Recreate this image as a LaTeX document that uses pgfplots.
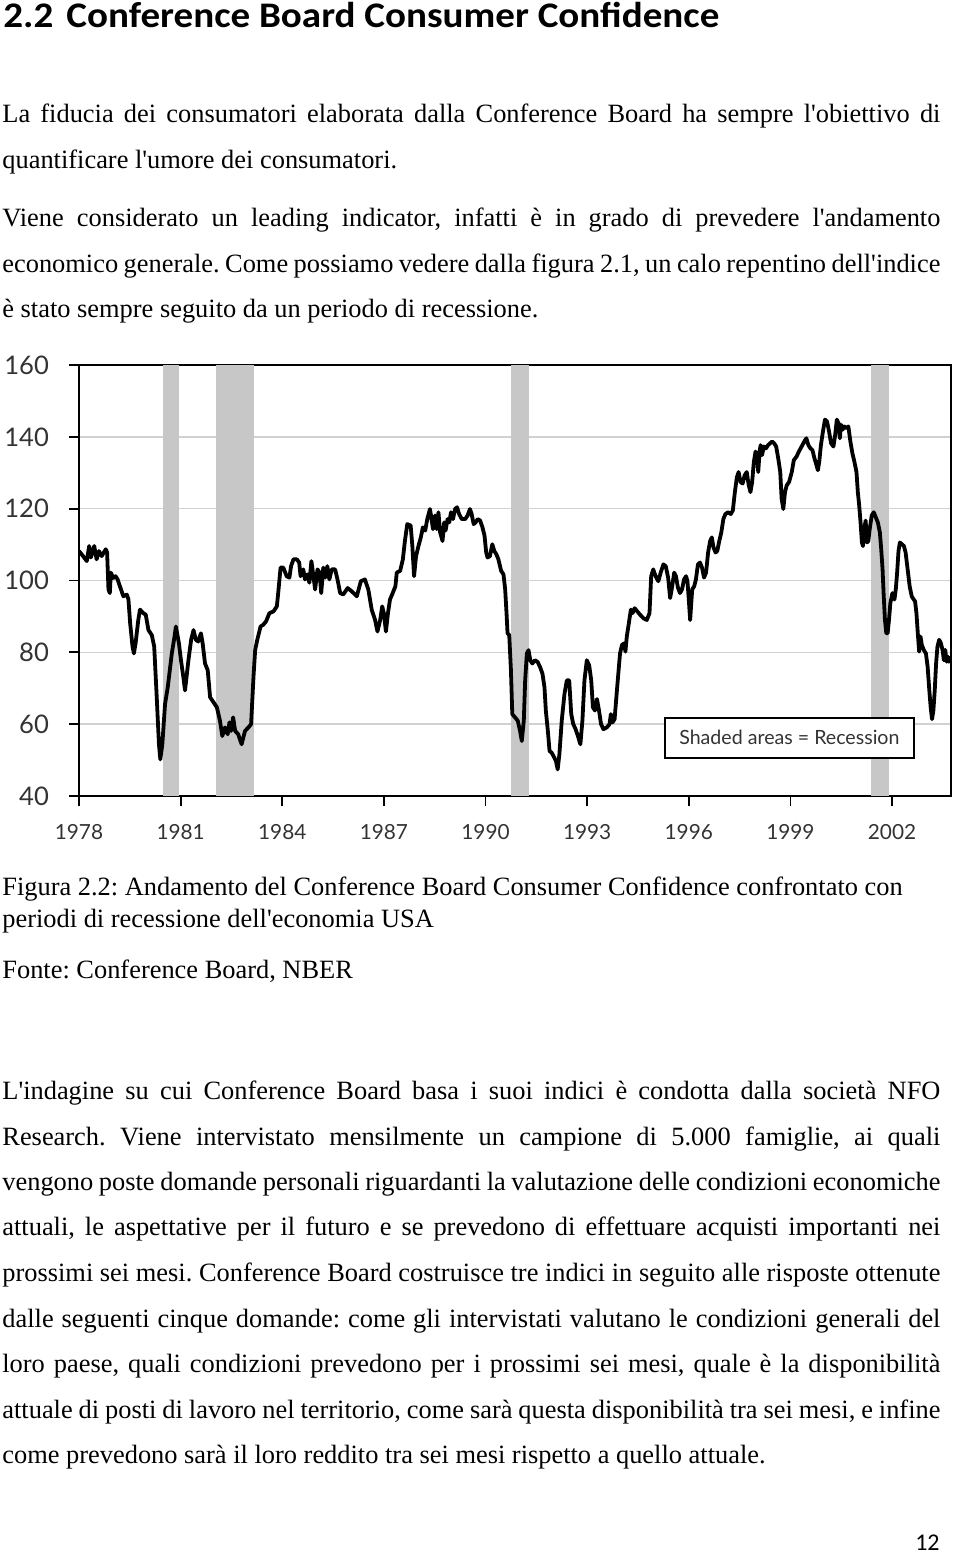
\documentclass[border=0pt]{standalone}
\usepackage{fontspec}
\setmainfont{Liberation Serif}
\newfontfamily\titlefont{Carlito}
\newfontfamily\chartfont{Lato}
\usepackage{pgfplots}
\pgfplotsset{compat=1.18}
\frenchspacing
\newcommand{\q}{\textquotesingle}
\newcommand{\body}{\fontsize{13.2}{16}\selectfont\frenchspacing}
\newcommand{\jline}[3]{\node[anchor=base west,inner sep=0pt] at (#1pt,#2pt) {\body\makebox[469pt][s]{#3}};}
\newcommand{\nline}[3]{\node[anchor=base west,inner sep=0pt] at (#1pt,#2pt) {\body #3};}
\begin{document}
\begin{tikzpicture}
\useasboundingbox (0,0) rectangle (480pt,-777pt);
% title
\node[anchor=base west,inner sep=0pt] at (1.5pt,-13.6pt) {\titlefont\bfseries\fontsize{18}{21}\selectfont\scalebox{1.085}[1]{2.2\hspace{6pt}Conference Board Consumer Confidence}};
% paragraph 1
\jline{1}{-61}{La fiducia dei consumatori elaborata dalla Conference Board ha sempre l\q obiettivo di}
\nline{1}{-84}{quantificare l\q umore dei consumatori.}
\jline{1}{-113}{Viene considerato un leading indicator, infatti è in grado di prevedere l\q andamento}
\jline{1}{-136}{economico generale. Come possiamo vedere dalla figura 2.1, un calo repentino dell\q indice}
\nline{1}{-158.5}{è stato sempre seguito da un periodo di recessione.}
% caption
\nline{1}{-447.5}{Figura 2.2: Andamento del Conference Board Consumer Confidence confrontato con}
\nline{1}{-463.5}{periodi di recessione dell\q economia USA}
\nline{1}{-489}{Fonte: Conference Board, NBER}
% paragraph 3
\jline{1}{-549.5}{L\q indagine su cui Conference Board basa i suoi indici è condotta dalla società NFO}
\jline{1}{-572.5}{Research. Viene intervistato mensilmente un campione di 5.000 famiglie, ai quali}
\jline{1}{-595.3}{vengono poste domande personali riguardanti la valutazione delle condizioni economiche}
\jline{1}{-617.9}{attuali, le aspettative per il futuro e se prevedono di effettuare acquisti importanti nei}
\jline{1}{-640.9}{prossimi sei mesi. Conference Board costruisce tre indici in seguito alle risposte ottenute}
\jline{1}{-663.7}{dalle seguenti cinque domande: come gli intervistati valutano le condizioni generali del}
\jline{1}{-686.3}{loro paese, quali condizioni prevedono per i prossimi sei mesi, quale è la disponibilità}
\jline{1}{-709.2}{attuale di posti di lavoro nel territorio, come sarà questa disponibilità tra sei mesi, e infine}
\nline{1}{-731.7}{come prevedono sarà il loro reddito tra sei mesi rispetto a quello attuale.}
\node[anchor=base east,inner sep=0pt] at (470pt,-775pt) {\titlefont\fontsize{12}{14}\selectfont 12};
% chart
\begin{axis}[
  at={(39.5pt,-398pt)}, anchor=south west,
  scale only axis, width=436pt, height=215.5pt,
  xmin=1978, xmax=2003.74, ymin=40, ymax=160,
  xtick={1978,1981,1984,1987,1990,1993,1996,1999,2002},
  xticklabels={1978,1981,1984,1987,1990,1993,1996,1999,2002},
  ytick={40,60,80,100,120,140,160},
  ymajorgrids, grid style={black!18, line width=0.7pt},
  axis line style={black, line width=0.9pt},
  tick style={black, line width=0.9pt},
  tick align=outside, major tick length=5pt,
  xtick pos=bottom, ytick pos=left,
  /pgf/number format/assume math mode=true,
  xticklabel style={font=\chartfont\fontsize{10.4}{12}\selectfont, text=black!80, yshift=-5.5pt},
  yticklabel style={font=\chartfont\fontsize{12.8}{14}\selectfont, text=black!80, xshift=-6.5pt},
]
\addplot[fill=black!22, draw=none] coordinates {(1980.48,40) (1980.48,160) (1980.95,160) (1980.95,40)};
\addplot[fill=black!22, draw=none] coordinates {(1982.05,40) (1982.05,160) (1983.17,160) (1983.17,40)};
\addplot[fill=black!22, draw=none] coordinates {(1990.74,40) (1990.74,160) (1991.29,160) (1991.29,40)};
\addplot[fill=black!22, draw=none] coordinates {(2001.38,40) (2001.38,160) (2001.90,160) (2001.90,40)};
\addplot[black, line width=1.9pt, line join=round, mark=none] coordinates {
(1978.00,108.2) (1978.12,106.8) (1978.23,105.4) (1978.30,109.6) (1978.35,106.4) (1978.45,109.6)
(1978.52,105.9) (1978.59,108.2) (1978.67,106.8) (1978.79,108.7) (1978.83,107.8) (1978.87,97.5)
(1978.91,96.5) (1978.94,102.2) (1979.01,100.7) (1979.08,101.2) (1979.14,100.3) (1979.24,97.5)
(1979.31,95.6) (1979.41,96.1) (1979.46,94.7) (1979.51,88.1) (1979.58,81.6) (1979.62,79.7)
(1979.67,82.5) (1979.75,89.0) (1979.80,91.9) (1979.90,90.9) (1979.97,90.5) (1980.05,86.2)
(1980.15,84.8) (1980.22,81.6) (1980.29,68.4) (1980.36,54.4) (1980.40,50.2) (1980.46,54.4)
(1980.54,65.6) (1980.62,70.3) (1980.74,79.7) (1980.82,84.4) (1980.86,87.2) (1980.95,82.5)
(1981.01,77.8) (1981.08,73.1) (1981.13,69.4) (1981.23,77.8) (1981.31,83.5) (1981.38,86.2)
(1981.45,83.5) (1981.52,83.0) (1981.60,85.3) (1981.65,82.5) (1981.72,76.9) (1981.80,75.0)
(1981.87,67.5) (1981.97,66.1) (1982.07,64.7) (1982.16,61.0) (1982.23,56.7) (1982.31,59.1)
(1982.39,57.2) (1982.44,60.5) (1982.49,58.1) (1982.55,61.9) (1982.61,58.1) (1982.70,57.2)
(1982.80,54.4) (1982.90,58.1) (1983.00,59.1) (1983.08,60.0) (1983.15,73.1) (1983.20,80.6)
(1983.26,83.4) (1983.36,87.2) (1983.44,87.7) (1983.52,88.6) (1983.62,90.9) (1983.74,91.4)
(1983.84,92.8) (1983.88,96.5) (1983.95,103.6) (1984.03,103.6) (1984.13,101.2) (1984.21,100.8)
(1984.26,104.0) (1984.33,105.9) (1984.43,105.9) (1984.50,105.0) (1984.54,101.2) (1984.62,103.1)
(1984.67,100.3) (1984.74,101.7) (1984.80,99.4) (1984.86,105.4) (1984.92,101.2) (1984.97,97.5)
(1985.04,103.1) (1985.10,102.2) (1985.15,96.5) (1985.21,103.6) (1985.27,100.8) (1985.33,104.0)
(1985.39,100.3) (1985.46,103.1) (1985.56,103.1) (1985.63,100.3) (1985.71,96.5) (1985.80,96.1)
(1985.93,97.9) (1986.05,97.0) (1986.20,95.6) (1986.32,99.8) (1986.44,100.3) (1986.54,97.5)
(1986.64,91.9) (1986.74,89.0) (1986.81,85.8) (1986.89,89.0) (1986.95,92.8) (1987.00,90.9)
(1987.06,85.8) (1987.12,90.9) (1987.18,94.7) (1987.26,96.5) (1987.34,98.4) (1987.38,102.2)
(1987.48,102.7) (1987.56,105.9) (1987.62,111.0) (1987.69,115.7) (1987.79,115.3) (1987.84,109.6)
(1987.89,101.2) (1987.95,106.8) (1988.02,109.6) (1988.09,112.0) (1988.15,114.8) (1988.22,113.9)
(1988.28,117.1) (1988.36,119.9) (1988.39,118.1) (1988.45,114.3) (1988.51,118.1) (1988.56,114.3)
(1988.61,119.0) (1988.66,113.4) (1988.73,111.0) (1988.78,116.2) (1988.82,113.9) (1988.88,117.1)
(1988.93,116.2) (1988.98,119.0) (1989.04,117.1) (1989.10,119.9) (1989.16,120.4) (1989.22,118.5)
(1989.30,117.1) (1989.40,117.1) (1989.47,118.1) (1989.54,119.9) (1989.59,118.5) (1989.65,115.7)
(1989.71,116.2) (1989.77,117.1) (1989.84,116.7) (1989.91,114.8) (1989.97,112.5) (1990.02,107.8)
(1990.06,106.4) (1990.13,106.8) (1990.20,110.1) (1990.26,108.2) (1990.32,107.3) (1990.38,105.9)
(1990.46,102.7) (1990.53,101.7) (1990.58,97.5) (1990.62,90.9) (1990.65,85.3) (1990.70,84.8)
(1990.75,75.0) (1990.79,62.8) (1990.87,61.9) (1990.95,61.0) (1991.02,58.1) (1991.07,55.3)
(1991.13,61.0) (1991.17,72.2) (1991.22,79.7) (1991.27,80.6) (1991.32,77.8) (1991.38,76.9)
(1991.46,77.8) (1991.54,77.3) (1991.61,75.9) (1991.68,74.1) (1991.74,70.3) (1991.78,63.8)
(1991.84,58.1) (1991.89,52.5) (1991.95,52.1) (1992.03,50.7) (1992.08,49.7) (1992.13,47.4)
(1992.18,51.6) (1992.25,61.0) (1992.33,68.4) (1992.40,72.2) (1992.47,72.2) (1992.53,62.8)
(1992.59,60.0) (1992.66,58.6) (1992.74,56.3) (1992.80,54.4) (1992.86,61.0) (1992.92,72.2)
(1992.99,77.8) (1993.06,76.4) (1993.12,72.2) (1993.17,64.7) (1993.23,63.8) (1993.29,67.0)
(1993.35,63.8) (1993.41,60.0) (1993.48,58.6) (1993.58,59.1) (1993.66,60.0) (1993.70,62.8)
(1993.75,60.5) (1993.81,61.4) (1993.87,68.4) (1993.92,74.1) (1993.97,79.7) (1994.03,82.1)
(1994.09,82.5) (1994.13,80.2) (1994.17,84.4) (1994.23,88.1) (1994.29,91.9) (1994.34,90.9)
(1994.40,92.3) (1994.48,91.4) (1994.56,90.5) (1994.66,89.5) (1994.76,89.0) (1994.84,90.9)
(1994.89,101.2) (1994.95,103.1) (1995.02,101.2) (1995.10,99.8) (1995.17,102.2) (1995.25,104.5)
(1995.32,104.0) (1995.39,100.8) (1995.45,95.1) (1995.51,98.4) (1995.57,102.2) (1995.62,101.2)
(1995.68,98.0) (1995.74,96.5) (1995.80,97.5) (1995.86,100.3) (1995.92,101.2) (1995.96,99.8)
(1996.00,94.7) (1996.04,89.0) (1996.10,97.5) (1996.16,98.4) (1996.21,100.3) (1996.27,104.5)
(1996.33,105.0) (1996.39,103.6) (1996.45,100.8) (1996.51,102.2) (1996.57,107.8) (1996.63,111.0)
(1996.68,112.0) (1996.73,109.2) (1996.79,107.8) (1996.84,108.2) (1996.90,111.0) (1996.96,113.4)
(1997.02,117.1) (1997.08,118.5) (1997.16,119.0) (1997.24,118.5) (1997.30,119.5) (1997.36,124.6)
(1997.42,128.8) (1997.47,130.2) (1997.53,127.4) (1997.59,127.0) (1997.65,129.3) (1997.71,130.2)
(1997.77,126.5) (1997.82,124.6) (1997.87,127.4) (1997.92,133.0) (1997.97,135.9) (1998.01,134.9)
(1998.05,130.2) (1998.09,135.9) (1998.12,137.7) (1998.16,134.9) (1998.22,137.3) (1998.28,136.8)
(1998.34,137.7) (1998.40,138.2) (1998.46,138.7) (1998.52,138.2) (1998.58,137.3) (1998.64,134.0)
(1998.70,130.2) (1998.74,122.8) (1998.79,119.9) (1998.84,124.6) (1998.89,126.5) (1998.96,127.4)
(1999.04,130.2) (1999.10,133.5) (1999.18,134.5) (1999.25,135.9) (1999.33,137.3) (1999.41,138.7)
(1999.47,139.6) (1999.53,137.7) (1999.59,136.8) (1999.65,136.3) (1999.71,134.0) (1999.77,132.1)
(1999.81,130.7) (1999.85,133.0) (1999.90,137.7) (1999.96,141.5) (2000.02,144.8) (2000.08,144.3)
(2000.14,141.5) (2000.20,138.2) (2000.27,137.3) (2000.32,140.5) (2000.37,144.8) (2000.42,143.8)
(2000.46,139.6) (2000.49,143.4) (2000.54,142.0) (2000.59,142.9) (2000.65,142.4) (2000.71,142.9)
(2000.77,138.7) (2000.83,135.4) (2000.89,133.0) (2000.95,130.2) (2000.99,124.6) (2001.03,120.9)
(2001.07,116.2) (2001.11,110.6) (2001.14,109.6) (2001.18,114.3) (2001.22,116.7) (2001.26,110.6)
(2001.30,111.0) (2001.34,114.3) (2001.40,118.1) (2001.46,119.0) (2001.52,117.6) (2001.58,116.2)
(2001.64,113.4) (2001.68,108.7) (2001.72,103.1) (2001.75,96.5) (2001.79,89.1) (2001.83,85.3)
(2001.87,85.3) (2001.91,89.1) (2001.95,93.7) (2002.01,96.5) (2002.07,94.7) (2002.11,97.5)
(2002.15,102.2) (2002.19,108.2) (2002.23,110.6) (2002.29,110.1) (2002.35,109.6) (2002.40,107.8)
(2002.46,103.1) (2002.52,98.4) (2002.58,95.6) (2002.64,94.7) (2002.68,94.2) (2002.72,90.9)
(2002.76,85.3) (2002.80,80.2) (2002.84,84.4) (2002.88,82.0) (2002.94,80.6) (2003.00,79.7)
(2003.05,76.0) (2003.10,69.4) (2003.14,64.7) (2003.18,61.4) (2003.22,63.8) (2003.26,69.4)
(2003.30,76.9) (2003.34,81.6) (2003.39,83.5) (2003.44,82.6) (2003.49,80.7) (2003.53,77.8)
(2003.57,80.7) (2003.61,77.4) (2003.65,78.8) (2003.68,77.4) (2003.72,77.8)
};
\node[draw=black, line width=0.8pt, fill=white, minimum width=124.5pt, minimum height=20pt, inner sep=0pt,
  font=\chartfont\fontsize{9.8}{12}\selectfont, text=black!80] at (axis cs:1998.97,56.2) {Shaded areas = Recession};
\end{axis}
\end{tikzpicture}
\end{document}
